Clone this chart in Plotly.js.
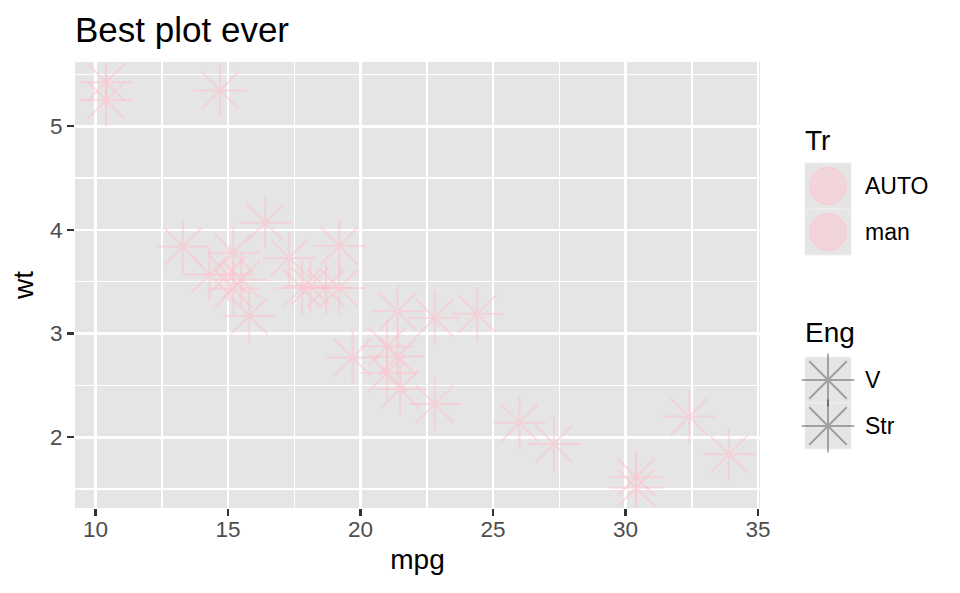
<!DOCTYPE html>
<html>
<head>
<meta charset="utf-8">
<script src="https://cdn.plot.ly/plotly-3.0.1.min.js"></script>
<style>html,body{margin:0;padding:0;background:#fff;}#chart{width:960px;height:593px;}</style>
</head>
<body>
<div id="chart"></div>
<script>
// mtcars data
const cars = ["Mazda RX4","Mazda RX4 Wag","Datsun 710","Hornet 4 Drive","Hornet Sportabout","Valiant","Duster 360","Merc 240D","Merc 230","Merc 280","Merc 280C","Merc 450SE","Merc 450SL","Merc 450SLC","Cadillac Fleetwood","Lincoln Continental","Chrysler Imperial","Fiat 128","Honda Civic","Toyota Corolla","Toyota Corona","Dodge Challenger","AMC Javelin","Camaro Z28","Pontiac Firebird","Fiat X1-9","Porsche 914-2","Lotus Europa","Ford Pantera L","Ferrari Dino","Maserati Bora","Volvo 142E"];
const mpg = [21.0,21.0,22.8,21.4,18.7,18.1,14.3,24.4,22.8,19.2,17.8,16.4,17.3,15.2,10.4,10.4,14.7,32.4,30.4,33.9,21.5,15.5,15.2,13.3,19.2,27.3,26.0,30.4,15.8,19.7,15.0,21.4];
const wt = [2.620,2.875,2.320,3.215,3.440,3.460,3.570,3.190,3.150,3.440,3.440,4.070,3.730,3.780,5.250,5.424,5.345,2.200,1.615,1.835,2.465,3.520,3.435,3.840,3.845,1.935,2.140,1.513,3.170,2.770,3.570,2.780];
const am = [1,1,1,0,0,0,0,0,0,0,0,0,0,0,0,0,0,1,1,1,0,0,0,0,0,1,1,1,1,1,1,1];
const vs = [0,0,1,1,0,1,0,1,1,1,1,0,0,0,0,0,0,1,1,1,1,0,0,0,0,1,0,1,0,0,0,1];
const trLabels = ["AUTO","man"];
const engLabels = ["V","Str"];
const xTicks = [10,15,20,25,30,35];
const yTicks = [2,3,4,5];

const FONT = "Liberation Sans, Arial, Helvetica, sans-serif";
const PINK = "rgba(255,192,203,0.5)";
const GREYSTAR = "rgba(0,0,0,0.3)";
const PANEL = "#E5E5E5";
const STAR = 44;

// figure geometry (pixels)
const W = 960, H = 593;
const L = 75, T = 62, B = 85;
const panelR = 760;
const plotW = W - L; // right margin 0
const mainDomEnd = (panelR - L) / plotW;
const legDomStart = 0.8;
const legX0 = L + legDomStart * plotW;

// data extent with 5% expansion (ggplot default)
function expand(a){const mn=Math.min(...a),mx=Math.max(...a),d=(mx-mn)*0.05;return [mn-d,mx+d];}
const xr = expand(mpg), yr = expand(wt);

const traces = [];
traces.push({
  type:"scatter", mode:"markers", x: mpg, y: wt, text: cars,
  customdata: am.map((a,i)=>[trLabels[a], engLabels[vs[i]]]),
  hovertemplate:"%{text}<br>mpg=%{x}<br>wt=%{y}<br>Tr=%{customdata[0]}<br>Eng=%{customdata[1]}<extra></extra>",
  marker:{symbol:"asterisk-open", size:STAR, color:PINK, line:{color:PINK, width:2}},
  showlegend:false, xaxis:"x", yaxis:"y"
});

// legend layout (pixel coords on legend axes)
const keyX0 = 805, keyW = 46, keyH = 46;
const keyCX = keyX0 + keyW/2;
const labX = 865;
const trTitleY = 140, trKeyTop = 163;
const engTitleY = 332, engKeyTop = 357;
const trY = trLabels.map((_,i)=>trKeyTop + keyH*i + keyH/2);
const engY = engLabels.map((_,i)=>engKeyTop + keyH*i + keyH/2);

traces.push({
  type:"scatter", mode:"markers", x: trLabels.map(()=>keyCX), y: trY,
  marker:{symbol:"circle", size:37, color:"rgba(255,192,203,0.45)", line:{color:"rgba(255,192,203,0.7)", width:1}},
  showlegend:false, hoverinfo:"skip", xaxis:"x2", yaxis:"y2", cliponaxis:false
});
traces.push({
  type:"scatter", mode:"markers", x: engLabels.map(()=>keyCX), y: engY,
  marker:{symbol:"asterisk-open", size:STAR, color:GREYSTAR, line:{color:GREYSTAR, width:2}},
  showlegend:false, hoverinfo:"skip", xaxis:"x2", yaxis:"y2", cliponaxis:false
});

const shapes = [{
  type:"rect", xref:"x domain", yref:"y domain", x0:0, x1:1, y0:0, y1:1,
  fillcolor:PANEL, line:{width:0}, layer:"below"
}];
trY.concat(engY).forEach(cy=>{
  shapes.push({type:"rect", xref:"x2", yref:"y2", x0:keyX0, x1:keyX0+keyW, y0:cy-keyH/2, y1:cy+keyH/2,
    fillcolor:PANEL, line:{color:"#EFEFEF", width:1}, layer:"below"});
});

const annotations = [];
function legText(t, x, y, size){
  annotations.push({text:t, xref:"x2", yref:"y2", x:x, y:y, xanchor:"left", yanchor:"middle",
    showarrow:false, font:{family:FONT, size:size, color:"#000"}});
}
legText("Tr", keyX0-2, trTitleY, 28);
trLabels.forEach((t,i)=>legText(t, labX-2, trY[i], 23));
legText("Eng", keyX0-2, engTitleY, 28);
engLabels.forEach((t,i)=>legText(t, labX-2, engY[i], 23));

const axisCommon = {
  showgrid:true, gridcolor:"#FFFFFF", gridwidth:2.7, zeroline:false, showline:false,
  ticks:"outside", ticklen:7, tickwidth:2.4, tickcolor:"#333333",
  tickfont:{family:FONT, size:22.5, color:"#4D4D4D"},
  fixedrange:true
};

const layout = {
  width:W, height:H,
  margin:{l:L, r:0, t:T, b:B, pad:0},
  paper_bgcolor:"#FFFFFF", plot_bgcolor:"rgba(0,0,0,0)",
  font:{family:FONT},
  showlegend:false,
  title:{text:"Best plot ever", x:0, xref:"paper", xanchor:"left", y:1-30/H, yref:"container", yanchor:"middle",
    font:{family:FONT, size:35, color:"#000"}},
  xaxis:Object.assign({}, axisCommon, {
    domain:[0, mainDomEnd], range:xr, tickmode:"array", tickvals:xTicks, ticktext:xTicks.map(String),
    ticklabelstandoff:-6,
    minor:{dtick:2.5, tick0:0, showgrid:true, gridcolor:"#FFFFFF", gridwidth:1.5, ticklen:0},
    title:{text:"mpg", font:{family:FONT, size:28, color:"#000"}, standoff:8}, anchor:"y"
  }),
  yaxis:Object.assign({}, axisCommon, {
    domain:[0,1], range:yr, tickmode:"array", tickvals:yTicks, ticktext:yTicks.map(String),
    minor:{dtick:0.5, tick0:0, showgrid:true, gridcolor:"#FFFFFF", gridwidth:1.5, ticklen:0},
    title:{text:"wt", font:{family:FONT, size:28, color:"#000"}, standoff:8}, anchor:"x"
  }),
  xaxis2:{domain:[legDomStart,1], range:[legX0, W], visible:false, fixedrange:true, anchor:"y2"},
  yaxis2:{domain:[0,1], range:[H-B, T], visible:false, fixedrange:true, anchor:"x2"},
  shapes:shapes,
  annotations:annotations
};

Plotly.newPlot("chart", traces, layout, {displayModeBar:false, staticPlot:true});
</script>
</body>
</html>
